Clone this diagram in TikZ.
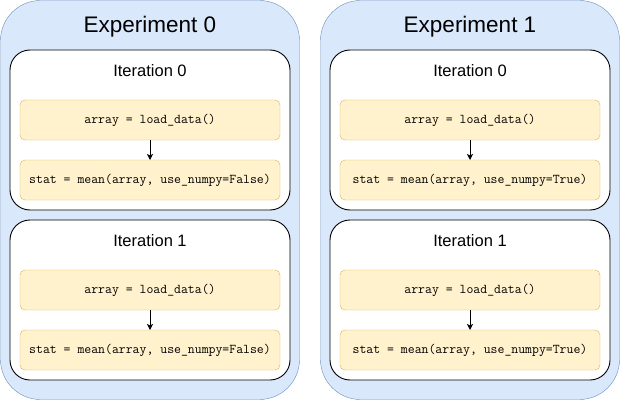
\documentclass[tikz,border=0pt]{standalone}
\usepackage{fontspec}
\setmainfont{Liberation Sans}
\usetikzlibrary{arrows.meta}
\definecolor{expfill}{HTML}{DAE8FC}
\definecolor{expline}{HTML}{6C8EBF}
\definecolor{codefill}{HTML}{FFF2CC}
\definecolor{codeline}{HTML}{D6B656}

\begin{document}
\begin{tikzpicture}
      [x=1pt,y=-1pt,every node/.style={inner sep=0pt,outer sep=0pt}]

      \tikzstyle{experiment} = [draw=expline,fill=expfill,rounded corners=40pt,minimum width=299pt,minimum height=399pt]
      \tikzstyle{iteration} = [draw=black,line width=0.9pt,fill=white,rounded corners=20pt,minimum width=280pt,minimum height=160pt]
      \tikzstyle{code} = [draw=codeline,fill=codefill,rounded corners=5pt,minimum width=260pt,minimum height=40pt,font=\ttfamily\fontsize{13.4}{16}\selectfont]
      \tikzstyle{title} = [font=\fontsize{22.5}{27}\selectfont]
      \tikzstyle{subtitle} = [font=\fontsize{16.5}{20}\selectfont]

      \useasboundingbox (0,0) rectangle (621,401);

      \foreach \e/\x/\flag in {0/150/False,1/470/True} {
        \node[experiment] (exp\e) at (\x,200) {};
        \node[title]      (exp\e title) at (\x,27) {Experiment \e};
        \foreach \i/\y in {0/130,1/300} {
          \node[iteration] (it\e\i) at (\x,\y) {};
          \node[subtitle]  (it\e\i title) at (\x,\y-59) {Iteration \i};
          \node[code]      (load\e\i) at (\x,\y-10) {array = load\_data()};
          \node[code]      (stat\e\i) at (\x,\y+50) {stat = mean(array, use\_numpy=\flag)};
          \path[-{Stealth[length=6pt,width=6pt,inset=1.5pt]}, line width=0.9pt] (load\e\i) edge (stat\e\i);
        }
      }
    \end{tikzpicture}
\end{document}
